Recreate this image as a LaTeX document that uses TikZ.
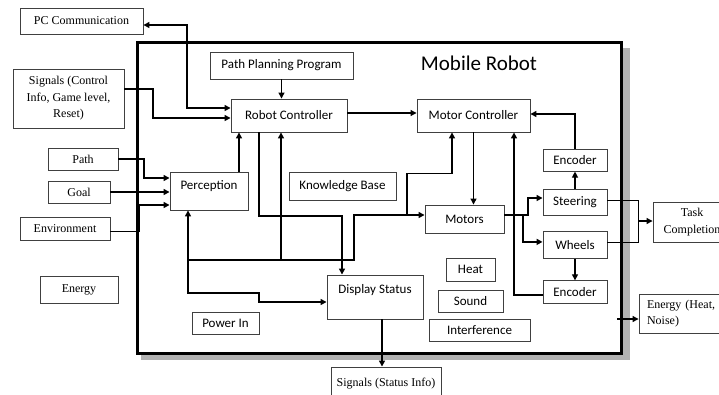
\documentclass[tikz,border=0pt]{standalone}
\usepackage{fontspec}
\setmainfont{Liberation Serif}
\newfontfamily\boxfont{Carlito}
\usetikzlibrary{arrows.meta,positioning}
\tikzset{
    %Define standard arrow tip
    >={Triangle[length=6pt,width=6pt]},
    %Define style for boxes inside the robot
    inrect/.style={
           rectangle,
           draw=black!75, line width=0.9pt,
           font=\boxfont\fontsize{13}{15}\selectfont,
           text centered,
           inner sep=2pt,
           },
    %Define style for boxes outside the robot
    outrect/.style={
           rectangle,
           draw=black!75, line width=0.9pt,
           font=\fontsize{12}{16.5}\selectfont,
           align=center,
           inner sep=2pt,
           },
    % Define arrow styles
    pil/.style={
           ->,
           line width=1.6pt,},
    thinpil/.style={
           ->,
           line width=1.1pt,},
    hair/.style={line width=0.7pt}
}
\begin{document}
\begin{tikzpicture}[x=1pt,y=-1pt]
\useasboundingbox (0,0) rectangle (719,394);
% robot frame
\fill[black!30] (141,48) rectangle (630,360);
\draw[line width=3pt,fill=white] (137,42) rectangle (621,353);
\node[font=\boxfont\fontsize{21}{25}\selectfont] (title) at (479,63) {Mobile Robot};
% outside
\node[outrect, minimum width=123pt, minimum height=26pt] (pc) at (81.5,21) {PC Communication};
\node[outrect, minimum width=111pt, minimum height=59pt] (sig) at (68.5,98.5) {Signals (Control\\Info, Game level,\\Reset)};
\node[outrect, minimum width=70pt, minimum height=22pt] (path) at (83,159) {Path};
\node[outrect, minimum width=62pt, minimum height=22pt] (goal) at (79,192) {Goal};
\node[outrect, minimum width=90pt, minimum height=23pt] (env) at (65,228.5) {Environment};
\node[outrect, minimum width=78pt, minimum height=27pt] (energy) at (79,289.5) {Energy};
\node[outrect, minimum width=78pt, minimum height=40pt] (task) at (692,222) {Task\\Completion};
\node[outrect, text width=74pt, align=left, inner xsep=8pt, minimum height=39pt] (heatout) at (684,313.5) {Energy (Heat,\\Noise)};
\node[outrect, minimum width=110pt, minimum height=33pt] (sigout) at (386,383.5) {Signals (Status Info)};
% inside
\node[inrect, minimum width=143pt, minimum height=27pt] (ppp) at (281.5,65.5) {Path Planning Program};
\node[inrect, minimum width=116pt, minimum height=33pt] (rc) at (289,115.5) {Robot Controller};
\node[inrect, minimum width=113pt, minimum height=33pt] (mc) at (473.5,115.5) {Motor Controller};
\node[inrect, minimum width=78pt, minimum height=38pt, text height=9pt, text depth=12pt] (perc) at (209,191) {Perception};
\node[inrect, minimum width=107pt, minimum height=28pt] (kb) at (342.5,186) {Knowledge Base};
\node[inrect, minimum width=79pt, minimum height=28pt] (motors) at (464.5,219) {Motors};
\node[inrect, minimum width=64pt, minimum height=26pt] (steer) at (575,202) {Steering};
\node[inrect, minimum width=64pt, minimum height=22pt, above=17pt of steer] (enc1) {Encoder};
\node[inrect, minimum width=64pt, minimum height=27pt, below=16pt of steer] (wheels) {Wheels};
\node[inrect, minimum width=64pt, minimum height=23pt, below=21pt of wheels] (enc2) {Encoder};
\node[inrect, minimum width=96pt, minimum height=44pt, text height=9pt, text depth=16pt] (disp) at (375,297) {Display Status};
\node[inrect, minimum width=67pt, minimum height=22pt] (power) at (225.5,323) {Power In};
\node[inrect, minimum width=49pt, minimum height=23pt] (heat) at (470.5,269.5) {Heat};
\node[inrect, minimum width=65pt, minimum height=22pt] (sound) at (470.5,301) {Sound};
\node[inrect, minimum width=101pt, minimum height=22pt] (interf) at (479.5,330) {Interference};
% junctions
\coordinate (busA) at (188,260);
\coordinate (busB) at (281,260);
\coordinate (busC) at (407,215);
\coordinate (split) at (523,215);
\coordinate (tj) at (638,221);
\coordinate (eo) at (617,319);
% inputs
\draw[pil,<->] ([yshift=-4pt]pc.east) -| (187,108) -- ([yshift=7.5pt]rc.west);
\draw[pil] ([yshift=9.5pt]sig.east) -| (153,118) -- ([yshift=-2.5pt]rc.west);
\draw[pil] (path.east) -| (144,178) -- ([yshift=13pt]perc.west);
\draw[pil] (goal.east) -- (perc.west |- goal.east);
\draw[pil] ([yshift=-3pt]env.east) -| (139,205) -- ([yshift=-14pt]perc.west);
% controllers
\draw[thinpil] (ppp.south) -- (ppp.south |- rc.north);
\draw[thinpil] ([yshift=2.5pt]rc.east) -- ([yshift=2.5pt]mc.west);
\draw[pil] ([xshift=30pt]perc.north) -- ([xshift=30pt]perc.north |- rc.south);
\draw[pil] ([xshift=-30pt]rc.south) |- (300,216) -| ([xshift=-33pt]disp.north);
\draw[thinpil] (mc.south) -- (mc.south |- motors.north);
% bus
\draw[pil,<->] ([xshift=-21pt]perc.south) |- (259,293) |- ([yshift=-5pt]disp.west);
\draw[pil] (busA) -- (busB) -- (busB |- rc.south);
\draw[pil] (busB) -| (354,215) -- (motors.west |- busC);
\draw[pil] (busC) |- ([xshift=-21.5pt,yshift=-41pt]mc.south) -- ([xshift=-21.5pt]mc.south);
% drive
\draw[pil] ([yshift=4pt]motors.east) -| (528,198) -- ([yshift=4pt]steer.west);
\draw[pil] (split) |- ([yshift=3.5pt]wheels.west);
\draw[thinpil] (steer.north) -- (enc1.south);
\draw[pil] (enc1.north) |- ([yshift=1.5pt]mc.east);
\draw[thinpil] (wheels.south) -- (enc2.north);
\draw[pil] ([yshift=-2.5pt]enc2.west) -| ([xshift=40.5pt]mc.south);
% outputs
\draw[hair] ([yshift=2pt]steer.east) -| (tj) |- ([yshift=3pt]wheels.east);
\draw[thinpil] (tj) -- (task.west |- tj);
\draw[thinpil] (eo) -- (heatout.west |- eo);
\draw[pil] ([xshift=7pt]disp.south) -- ([xshift=7pt]disp.south |- sigout.north);
\end{tikzpicture}
\end{document}
